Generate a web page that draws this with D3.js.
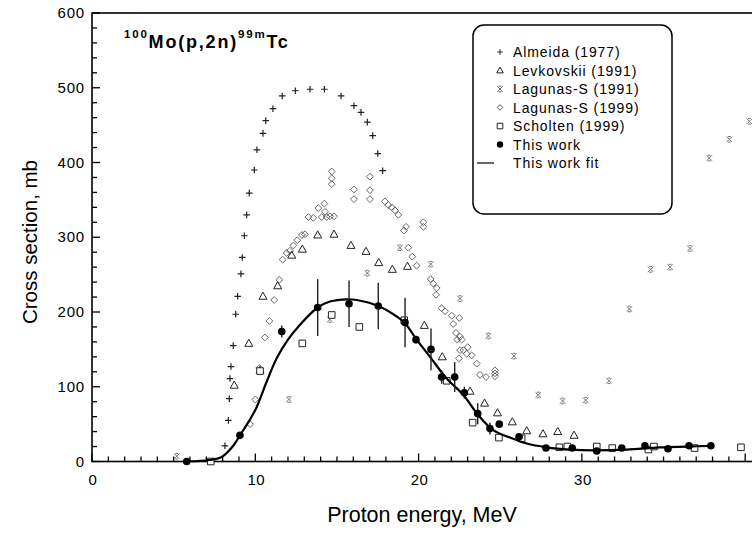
<!DOCTYPE html>
<html><head><meta charset="utf-8">
<script src="https://cdn.jsdelivr.net/npm/d3@7"></script>
<style>
body{margin:0;background:#fff}
svg{display:block}
text{font-family:Arial,"Liberation Sans",sans-serif;fill:#000}
</style>
</head><body>
<svg id="c" width="752" height="533"></svg>
<script>
// ---- data (energy MeV, cross section mb) ----
const almeidaE=[8.14,8.35,8.41,8.45,8.51,8.65,8.80,8.92,9.12,9.20,9.33,9.47,9.63,9.94,10.10,10.47,10.64,11.08,11.65,12.45,13.35,14.23,15.25,16.04,16.47,16.86,17.19,17.50,17.80];
const almeidaS=[21,55,84,111,127,155,197,221,251,273,302,330,359,390,417,439,456,472,489,496,498,498,489,476,467,454,436,412,389];

const levkE=[8.71,9.60,10.29,10.47,11.37,12.23,12.88,13.82,14.82,15.86,16.78,17.56,18.39,19.32,20.35,21.45,23.15,24.04,24.83,25.74,26.62,27.62,28.52,29.52];
const levkS=[102,158,122,221,235,276,284,303,304,289,281,266,257,261,182,140,94,78,65,53,41,37,40,35];

const lag91E=[5.19,12.06,14.57,16.86,18.86,20.74,22.54,24.27,25.84,27.33,28.82,30.23,31.66,32.91,34.21,35.40,36.62,37.80,39.03,40.25];
const lag91S=[7,83,190,252,286,264,218,168,141,89,81,82,108,204,257,260,285,406,431,455];

const lag99E=[9.68,10.0,10.24,10.59,10.86,11.16,11.47,11.68,11.92,12.12,12.33,12.57,12.86,13.04,13.25,13.55,13.86,14.07,14.23,14.27,14.37,14.57,14.82,14.68,14.68,14.68,16.04,16.04,17.02,17.02,17.02,17.94,18.14,18.35,18.55,18.76,19.23,19.11,20.29,20.29,19.37,19.61,19.88,20.74,20.90,21.11,21.07,21.41,21.62,22.03,22.49,22.12,22.29,22.54,22.37,22.64,22.54,22.74,23.01,22.95,23.25,22.47,23.56,23.76,24.13,24.68,24.68,24.68];
const lag99S=[50,83,125,166,188,216,243,270,279,282,289,296,303,304,327,326,339,327,345,334,327,328,328,388,379,371,364,351,381,363,351,348,343,340,336,330,314,309,320,314,286,274,262,244,238,232,223,205,201,195,192,184,172,167,163,163,149,149,153,144,142,138,131,116,113,122,118,114];

const scholE=[7.27,10.29,12.88,14.68,16.37,19.12,21.72,23.31,24.92,26.31,28.62,29.11,30.91,31.86,34.07,34.41,36.90,39.74];
const scholS=[0,121,158,196,180,189,108,52,32,31,19,20,20,18,16,20,18,19];

const workE=[5.80,9.06,11.62,13.82,15.74,17.53,19.17,19.84,20.76,21.41,22.21,22.80,23.62,24.37,24.94,26.15,27.80,29.41,30.91,32.44,33.86,35.27,36.56,37.90];
const workS=[0,35,174,206,211,208,186,163,150,113,113,92,64,44,50,33,18,18,14,18,21,17,21,21];
const workErr=[0,3,8,38,31,31,33,5,28,9,20,8,14,8,0,0,0,0,0,0,0,0,0,0];

const fitE=[5.80,7.2,7.94,8.65,9.06,9.67,10.09,10.7,11.31,12.0,12.74,13.82,14.57,15.6,16.21,17.53,18.66,19.17,19.88,20.7,21.72,22.74,23.66,24.57,25.6,26.62,27.84,29.27,30.7,32.74,34.76,36.5,37.9];
const fitS=[0,2,6,21,35,56,73,107,138,163,183,206,214,217,216,208,194,185,163,140,111,89,62,42,32,24,19,16,15,16,19,20,21];

const xTickLabels=[0,10,20,30];
const yTickLabels=[0,100,200,300,400,500,600];
const legendLabels=["Almeida (1977)","Levkovskii (1991)","Lagunas-S (1991)","Lagunas-S (1999)","Scholten (1999)","This work","This work fit"];

// ---- layout ----
const svg=d3.select("#c");
const x=d3.scaleLinear().domain([0,41]).range([92,92+41*16.33]);
const y=d3.scaleLinear().domain([0,600]).range([461.5,13]);
const X0=x(0), X1=x(41), Y0=y(0), Y1=y(600);

// shapes
const sh={
  plus:s=>`M${-s},0H${s}M0,${-s}V${s}`,
  tri:s=>`M0,${-s}L${s*0.95},${s*0.7}H${-s*0.95}Z`,
  zh:s=>`M${-s},${-s}L${s},${s}M${s},${-s}L${-s},${s}M${-s*0.5},${-s}H${s*0.5}M${-s*0.5},${s}H${s*0.5}`,
  dia:s=>`M0,${-s}L${s},0L0,${s}L${-s},0Z`,
  sq:s=>`M${-s},${-s}h${2*s}v${2*s}h${-2*s}Z`
};

// frame
svg.append("rect").attr("x",X0).attr("y",Y1).attr("width",X1-X0).attr("height",Y0-Y1)
  .attr("fill","none").attr("stroke","#000").attr("stroke-width",1.6);

// x ticks (inward)
const gx=svg.append("g");
d3.range(0,42).forEach(v=>{
  const L=(v%10===0)?8:5;
  gx.append("line").attr("x1",x(v)).attr("x2",x(v)).attr("y1",Y0).attr("y2",Y0-L).attr("stroke","#000").attr("stroke-width",1.3);
});
xTickLabels.forEach(v=>{
  gx.append("text").attr("x",x(v)+1).attr("y",485).attr("text-anchor","middle")
    .attr("font-size",15).attr("letter-spacing",0.5).text(v);
});
// y ticks (inward)
const gy=svg.append("g");
d3.range(0,601,20).forEach(v=>{
  const L=(v%100===0)?8:5;
  gy.append("line").attr("x1",X0).attr("x2",X0+L).attr("y1",y(v)).attr("y2",y(v)).attr("stroke","#000").attr("stroke-width",1.3);
});
yTickLabels.forEach(v=>{
  gy.append("text").attr("x",85).attr("y",y(v)+5).attr("text-anchor","end")
    .attr("font-size",15).attr("letter-spacing",0.8).text(v);
});

// axis titles
svg.append("text").attr("x",422).attr("y",522).attr("text-anchor","middle").attr("font-size",21.5).text("Proton energy, MeV");
svg.append("text").attr("transform","translate(37,242) rotate(-90)").attr("text-anchor","middle").attr("font-size",20.5).text("Cross section, mb");

// reaction title
const t=svg.append("text").attr("x",124).attr("y",48).attr("font-weight","bold").attr("letter-spacing",1.8);
t.append("tspan").attr("font-size",11.5).attr("dy",-10).text("100");
t.append("tspan").attr("font-size",18).attr("dy",10).text("Mo(p,2n)");
t.append("tspan").attr("font-size",11.5).attr("dy",-10).text("99m");
t.append("tspan").attr("font-size",18).attr("dy",10).text("Tc");

// data layers
function pts(E,S,shape,size,stroke,sw,fill){
  svg.append("g").selectAll("path").data(E).join("path")
    .attr("transform",(d,i)=>`translate(${x(d)},${y(S[i])})`)
    .attr("d",sh[shape](size)).attr("fill",fill||"none").attr("stroke",stroke).attr("stroke-width",sw);
}
pts(lag99E,lag99S,"dia",3.4,"#555",0.9,"none");
pts(lag91E,lag91S,"zh",2.8,"#666",0.9);
pts(levkE,levkS,"tri",4.2,"#222",1.0,"none");
pts(scholE,scholS,"sq",3.3,"#222",1.0,"#fff");
pts(almeidaE,almeidaS,"plus",3.3,"#222",1.2);

// fit line
const line=d3.line().x((d,i)=>x(fitE[i])).y((d,i)=>y(fitS[i])).curve(d3.curveCatmullRom.alpha(0.5));
svg.append("path").datum(fitE).attr("d",line).attr("fill","none").attr("stroke","#000").attr("stroke-width",2.2);

// error bars
svg.append("g").selectAll("line").data(workE).join("line")
  .attr("x1",d=>x(d)).attr("x2",d=>x(d))
  .attr("y1",(d,i)=>y(workS[i]-workErr[i])).attr("y2",(d,i)=>y(workS[i]+workErr[i]))
  .attr("stroke","#222").attr("stroke-width",1.4);
svg.append("g").selectAll("circle").data(workE).join("circle")
  .attr("cx",d=>x(d)).attr("cy",(d,i)=>y(workS[i])).attr("r",3.8).attr("fill","#000");

// legend
const lg=svg.append("g");
lg.append("rect").attr("x",473).attr("y",25).attr("width",199).attr("height",189).attr("rx",11)
  .attr("fill","#fff").attr("stroke","#000").attr("stroke-width",1.5);
const legShapes=["plus","tri","zh","dia","sq","dot","line"];
const legStroke=["#222","#222","#666","#555","#222"];
legendLabels.forEach((lab,i)=>{
  const cy=52+i*18.5, cx=500;
  const s=legShapes[i];
  if(s==="dot") lg.append("circle").attr("cx",cx).attr("cy",cy).attr("r",3.2).attr("fill","#000");
  else if(s==="line") lg.append("line").attr("x1",477).attr("x2",494).attr("y1",cy).attr("y2",cy).attr("stroke","#000").attr("stroke-width",1.2);
  else lg.append("path").attr("transform",`translate(${cx},${cy})`).attr("d",sh[s](s==="tri"?3.4:2.8))
        .attr("fill","none").attr("stroke",legStroke[i]).attr("stroke-width",1);
  lg.append("text").attr("x",513).attr("y",cy+5).attr("font-size",14).attr("letter-spacing",0.9).text(lab);
});
</script>
</body></html>
